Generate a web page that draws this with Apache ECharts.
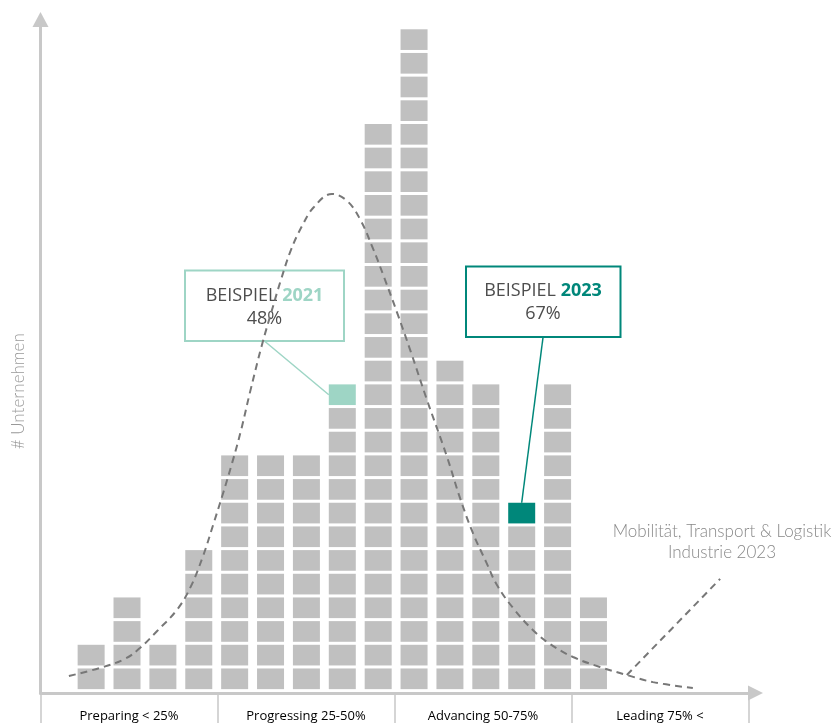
<!DOCTYPE html>
<html>
<head>
<meta charset="utf-8">
<script src="https://cdn.jsdelivr.net/npm/echarts@6/dist/echarts.min.js"></script>
<style>
html, body { margin: 0; padding: 0; background: #fff; }
#chart { width: 833px; height: 723px; }
</style>
</head>
<body>
<div id="chart"></div>
<script>
// Säulen: Anzahl Unternehmen je Reifegrad-Klasse
var columns = [1, 2, 3, 4, 5, 6, 7, 8, 9, 10, 11, 12, 13, 14, 15];
var counts = [2, 4, 2, 6, 10, 10, 10, 13, 24, 28, 14, 13, 8, 13, 4];

// markierte Kästchen [Säule, Kästchen]
var highlight2021 = [8, 13];
var highlight2023 = [13, 8];

// gestrichelte Verteilungskurve (Branche)
var curveX = [0.38, 1.25, 1.94, 2.36, 2.84, 3.39, 3.76, 4.12, 4.40, 4.68, 4.93, 5.18, 5.43, 5.76, 6.04,
    6.29, 6.57, 6.88, 7.21, 7.71, 8.13, 8.49, 8.86, 9.16, 9.55, 9.91, 10.36, 10.92, 11.28, 11.64,
    12.01, 12.31, 12.76, 13.31, 13.79, 14.43, 15.18, 15.93, 16.66, 17.77];
var curveY = [0.62, 0.96, 1.34, 1.80, 2.52, 3.41, 4.34, 5.69, 7.00, 8.35, 9.62, 11.01, 12.62, 14.60, 16.08,
    17.35, 18.62, 19.63, 20.43, 20.98, 20.69, 19.93, 18.66, 17.48, 15.87, 14.31, 12.28, 9.87, 8.14, 6.66,
    5.43, 4.46, 3.49, 2.56, 1.97, 1.42, 1.00, 0.66, 0.36, 0.11];

// Zeiger zur Beschriftung
var pointerX = [15.93, 18.53];
var pointerY = [0.66, 4.72];

var sections = ['Preparing < 25%', 'Progressing 25-50%', 'Advancing 50-75%', 'Leading 75% <'];
var sectionTicks = [0, 1, 2, 3, 4];
var sectionMids = [0.5, 1.5, 2.5, 3.5];

var myChart = echarts.init(document.getElementById('chart'));

var grey = '#c0c0c0';
var teal1 = '#9ed5c5';
var teal2 = '#00877a';
var axisGrey = '#c8c8c8';
var dash = { color: '#777', width: 2, type: [7, 5] };

function renderBlocks(params, api) {
    var x = api.value(0);
    var n = api.value(1);
    var unit = api.size([1, 1]);
    var children = [];
    for (var k = 1; k <= n; k++) {
        var p = api.coord([x, k]);
        var color = grey;
        if (x === highlight2021[0] && k === highlight2021[1]) color = teal1;
        if (x === highlight2023[0] && k === highlight2023[1]) color = teal2;
        children.push({
            type: 'rect',
            shape: { x: p[0] - 13.5, y: p[1] + 1.5, width: 27, height: unit[1] - 3 },
            style: { fill: color }
        });
    }
    return { type: 'group', children: children };
}

var option = {
    animation: false,
    grid: { left: 40.5, right: 77.5, top: 19.5, bottom: 30, containLabel: false, outerBoundsMode: 'none' },
    xAxis: [
        {
            type: 'value',
            min: -0.411,
            max: 19.516,
            axisLine: {
                show: true,
                onZero: false,
                symbol: ['none', 'triangle'],
                symbolSize: [15, 15],
                lineStyle: { color: axisGrey, width: 3 }
            },
            axisTick: { show: false },
            axisLabel: { show: false },
            splitLine: { show: false }
        },
        {
            type: 'value',
            position: 'bottom',
            min: 0,
            max: 4.04,
            axisLine: { show: false, onZero: false },
            axisTick: {
                show: true,
                customValues: sectionTicks,
                length: 30,
                lineStyle: { color: axisGrey, width: 1.5 }
            },
            axisLabel: {
                show: true,
                customValues: sectionMids,
                formatter: function (v) { return sections[Math.floor(v)]; },
                color: '#000',
                fontSize: 13,
                fontFamily: 'Open Sans',
                margin: 17
            },
            splitLine: { show: false }
        }
    ],
    yAxis: {
        type: 'value',
        min: -0.1,
        max: 28.35,
        name: '# Unternehmen',
        nameLocation: 'middle',
        nameRotate: 90,
        nameGap: 13,
        nameTextStyle: {
            color: '#999',
            fontSize: 17,
            fontFamily: 'Lato',
            fontWeight: 300,
            padding: [0, 70, 0, 0]
        },
        axisLine: {
            show: true,
            onZero: false,
            symbol: ['none', 'triangle'],
            symbolSize: [16, 15],
            lineStyle: { color: axisGrey, width: 3 }
        },
        axisTick: { show: false },
        axisLabel: { show: false },
        splitLine: { show: false }
    },
    series: [
        {
            type: 'custom',
            renderItem: renderBlocks,
            data: columns.map(function (c, i) { return [c, counts[i]]; }),
            z: 2
        },
        {
            type: 'line',
            smooth: 0.4,
            symbol: 'none',
            lineStyle: dash,
            data: curveX.map(function (x, i) { return [x, curveY[i]]; }),
            z: 5
        },
        {
            type: 'line',
            symbol: 'none',
            lineStyle: dash,
            data: pointerX.map(function (x, i) { return [x, pointerY[i]]; }),
            z: 5
        }
    ]
};

myChart.setOption(option);

// Beschriftungen und Hinweislinien
var p21 = myChart.convertToPixel({ xAxisIndex: 0, yAxisIndex: 0 }, [highlight2021[0], highlight2021[1] - 0.5]);
var p23 = myChart.convertToPixel({ xAxisIndex: 0, yAxisIndex: 0 }, [highlight2023[0], highlight2023[1]]);

var boxFont = 'Open Sans';
var boxText = '#4d4d4d';
myChart.setOption({
    graphic: [
        {
            type: 'rect', z: 1,
            shape: { x: 185, y: 270.5, width: 159, height: 70.5 },
            style: { fill: '#fff', stroke: teal1, lineWidth: 2 }
        },
        {
            type: 'text', z: 1, x: 264.5, y: 296,
            style: {
                text: '{a|BEISPIEL }{b|2021}',
                align: 'center', verticalAlign: 'middle',
                rich: {
                    a: { fontSize: 18, fontFamily: boxFont, fill: boxText },
                    b: { fontSize: 18, fontFamily: boxFont, fontWeight: 'bold', fill: teal1 }
                }
            }
        },
        {
            type: 'text', z: 1, x: 264.5, y: 319,
            style: { text: '48%', align: 'center', verticalAlign: 'middle', fontSize: 18, fontFamily: boxFont, fill: boxText }
        },
        {
            type: 'line', z: 1,
            shape: { x1: 265, y1: 341.5, x2: p21[0] - 13.5, y2: p21[1] },
            style: { stroke: teal1, lineWidth: 1.5 }
        },
        {
            type: 'rect', z: 1,
            shape: { x: 466, y: 266.5, width: 154.5, height: 70.5 },
            style: { fill: '#fff', stroke: teal2, lineWidth: 2 }
        },
        {
            type: 'text', z: 1, x: 543, y: 291,
            style: {
                text: '{a|BEISPIEL }{b|2023}',
                align: 'center', verticalAlign: 'middle',
                rich: {
                    a: { fontSize: 18, fontFamily: boxFont, fill: boxText },
                    b: { fontSize: 18, fontFamily: boxFont, fontWeight: 'bold', fill: teal2 }
                }
            }
        },
        {
            type: 'text', z: 1, x: 543, y: 314,
            style: { text: '67%', align: 'center', verticalAlign: 'middle', fontSize: 18, fontFamily: boxFont, fill: boxText }
        },
        {
            type: 'line', z: 1,
            shape: { x1: 543, y1: 337.5, x2: p23[0], y2: p23[1] + 1.5 },
            style: { stroke: teal2, lineWidth: 1.5 }
        },
        {
            type: 'text', z: 1, x: 722, y: 542,
            style: {
                text: 'Mobilität, Transport & Logistik\nIndustrie 2023',
                align: 'center', verticalAlign: 'middle',
                fontSize: 17, lineHeight: 21, fontFamily: 'Lato', fontWeight: 300, fill: '#888'
            }
        }
    ]
});
</script>
</body>
</html>
